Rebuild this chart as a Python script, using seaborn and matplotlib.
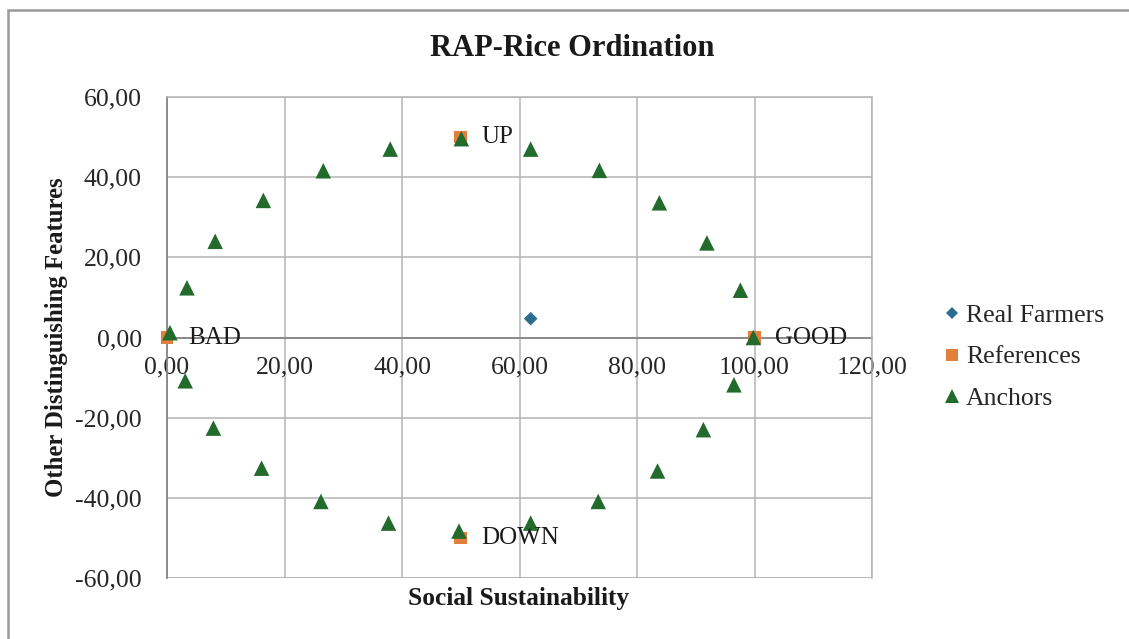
import matplotlib
matplotlib.use("Agg")
import matplotlib.pyplot as plt
from matplotlib.patches import Rectangle
from matplotlib.lines import Line2D
import seaborn as sns
import pandas as pd

# ---- data ----
farmers_x = [61.9]
farmers_y = [4.7]

ref_x = [0.0, 100.0, 50.0, 50.0]
ref_y = [0.0, 0.0, 50.0, -50.0]
ref_labels = ["BAD", "GOOD", "UP", "DOWN"]

anchors_x = [0.5, 3.4, 8.2, 16.4, 26.6, 38.0, 50.1, 61.9, 73.6, 83.8, 91.9, 97.6,
             99.8, 96.5, 91.3, 83.5, 73.4, 61.9, 49.7, 37.7, 26.2, 16.1, 7.9, 3.1]
anchors_y = [1.2, 12.4, 24.0, 34.2, 41.6, 47.0, 49.6, 47.0, 41.7, 33.6, 23.6, 11.8,
             0.0, -11.8, -23.0, -33.3, -40.9, -46.3, -48.3, -46.3, -40.9, -32.6, -22.6, -10.8]

x_ticks = [0, 20, 40, 60, 80, 100, 120]
y_ticks = [-60, -40, -20, 0, 20, 40, 60]

title = "RAP-Rice Ordination"
x_label = "Social Sustainability"
y_label = "Other Distinguishing Features"
series_names = ["Real Farmers", "References", "Anchors"]

# ---- style ----
sns.set_style("white")
plt.rcParams["font.family"] = ["Liberation Serif", "DejaVu Serif"]

c_farm = "#2b6e92"
c_ref = "#e37f3c"
c_anc = "#226b2c"
grid_c = "#b4b4b4"
axis_c = "#868686"

fig = plt.figure(figsize=(11.29, 6.39), dpi=100)
W, H = 1129, 639
ax = fig.add_axes([167 / W, 1 - 578 / H, (872 - 167) / W, (578 - 97) / H])

df_f = pd.DataFrame({"x": farmers_x, "y": farmers_y})
df_r = pd.DataFrame({"x": ref_x, "y": ref_y, "label": ref_labels})
df_a = pd.DataFrame({"x": anchors_x, "y": anchors_y})

sns.scatterplot(data=df_f, x="x", y="y", ax=ax, marker="D", s=48, color=c_farm,
                edgecolor="none", zorder=4, legend=False, clip_on=False)
sns.scatterplot(data=df_r, x="x", y="y", ax=ax, marker="s", s=85, color=c_ref,
                edgecolor="none", zorder=4, legend=False, clip_on=False)
sns.scatterplot(data=df_a, x="x", y="y", ax=ax, marker="^", s=125, color=c_anc,
                edgecolor="none", zorder=5, legend=False, clip_on=False)

for xx, yy, lab in zip(ref_x, ref_y, ref_labels):
    ax.annotate(lab, (xx, yy), xytext=(15, 0), textcoords="offset points",
                ha="left", va="center", fontsize=18, color="#1a1a1a", zorder=6)

ax.set_xlim(0, 120)
ax.set_ylim(-60, 60)
ax.set_xticks(x_ticks)
ax.set_yticks(y_ticks)
ax.set_xticklabels([f"{v:.2f}".replace(".", ",") for v in x_ticks])
ax.set_yticklabels([f"{v:.2f}".replace(".", ",") for v in y_ticks])

ax.grid(True, color=grid_c, linewidth=1.1, zorder=0)
ax.set_axisbelow(True)
for side in ["top", "right"]:
    ax.spines[side].set_visible(True)
    ax.spines[side].set_color(grid_c)
    ax.spines[side].set_linewidth(1.1)
ax.spines["bottom"].set_position(("data", 0))
ax.spines["bottom"].set_color(axis_c)
ax.spines["bottom"].set_linewidth(1.3)
ax.spines["bottom"].set_zorder(1)
ax.spines["left"].set_color(axis_c)
ax.spines["left"].set_linewidth(1.3)
ax.axhline(-60, color=grid_c, linewidth=1.1, zorder=0)

ax.tick_params(axis="both", direction="out", length=6, width=1.1, color=axis_c,
               labelsize=18.5, labelcolor="#262626")
ax.tick_params(axis="x", pad=8)
ax.tick_params(axis="y", pad=12)

ax.set_xlabel("")
ax.set_ylabel("")
fig.text(519 / W, 1 - 598 / H, x_label, ha="center", va="center",
         fontsize=18.3, fontweight="bold", color="#1a1a1a")
fig.text(57 / W, 1 - 337 / H, y_label, ha="center", va="center", rotation=90,
         fontsize=17.8, fontweight="bold", color="#1a1a1a")
fig.text(572 / W, 1 - 49 / H, title, ha="center", va="center",
         fontsize=22, fontweight="bold", color="#1a1a1a")

handles = [
    Line2D([], [], linestyle="none", marker="D", markersize=6.5, color=c_farm, markeredgewidth=0),
    Line2D([], [], linestyle="none", marker="s", markersize=9, color=c_ref, markeredgewidth=0),
    Line2D([], [], linestyle="none", marker="^", markersize=9.5, color=c_anc, markeredgewidth=0),
]
fig.legend(handles, series_names, loc="center left", bbox_to_anchor=(944 / W, 1 - 357 / H),
           frameon=False, fontsize=18.5, handlelength=0.6, handletextpad=0.25,
           labelspacing=0.72, borderpad=0, borderaxespad=0)

# outer chart border
fig.patches.append(Rectangle((8 / W, -0.05), 1.1, 1 - 10 / H + 0.05, transform=fig.transFigure,
                             fill=False, edgecolor="#9a9a9a", linewidth=1.8))

fig.savefig("out.png", dpi=100, facecolor="white")
